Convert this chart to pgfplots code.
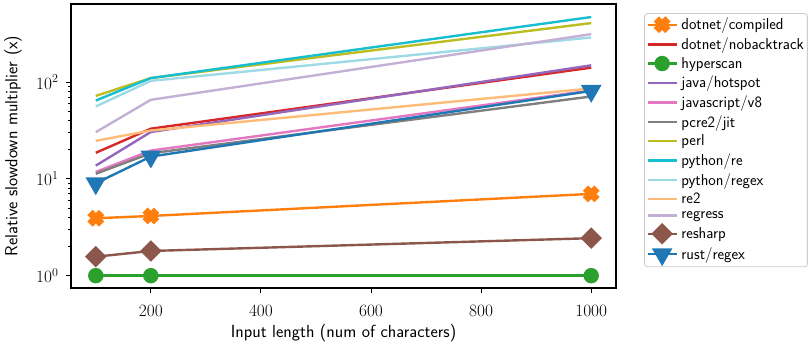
\documentclass[border=0pt]{standalone}
\usepackage{pgfplots}
\pgfplotsset{compat=1.18}

% tab10 / tab20 colours
\definecolor{tblue}{HTML}{1F77B4}
\definecolor{torange}{HTML}{FF7F0E}
\definecolor{tgreen}{HTML}{2CA02C}
\definecolor{tred}{HTML}{D62728}
\definecolor{tpurple}{HTML}{9467BD}
\definecolor{tbrown}{HTML}{8C564B}
\definecolor{tpink}{HTML}{E377C2}
\definecolor{tgray}{HTML}{7F7F7F}
\definecolor{tolive}{HTML}{BCBD22}
\definecolor{tcyan}{HTML}{17BECF}
\definecolor{tlcyan}{HTML}{9EDAE5}
\definecolor{tlorange}{HTML}{FFBB78}
\definecolor{tlpurple}{HTML}{C5B0D5}

% filled "X" marker
\pgfdeclareplotmark{Xfill}{%
  \pgftransformrotate{45}%
  \pgfpathmoveto{\pgfqpoint{0.36\pgfplotmarksize}{\pgfplotmarksize}}%
  \pgfpathlineto{\pgfqpoint{0.36\pgfplotmarksize}{0.36\pgfplotmarksize}}%
  \pgfpathlineto{\pgfqpoint{\pgfplotmarksize}{0.36\pgfplotmarksize}}%
  \pgfpathlineto{\pgfqpoint{\pgfplotmarksize}{-0.36\pgfplotmarksize}}%
  \pgfpathlineto{\pgfqpoint{0.36\pgfplotmarksize}{-0.36\pgfplotmarksize}}%
  \pgfpathlineto{\pgfqpoint{0.36\pgfplotmarksize}{-\pgfplotmarksize}}%
  \pgfpathlineto{\pgfqpoint{-0.36\pgfplotmarksize}{-\pgfplotmarksize}}%
  \pgfpathlineto{\pgfqpoint{-0.36\pgfplotmarksize}{-0.36\pgfplotmarksize}}%
  \pgfpathlineto{\pgfqpoint{-\pgfplotmarksize}{-0.36\pgfplotmarksize}}%
  \pgfpathlineto{\pgfqpoint{-\pgfplotmarksize}{0.36\pgfplotmarksize}}%
  \pgfpathlineto{\pgfqpoint{-0.36\pgfplotmarksize}{0.36\pgfplotmarksize}}%
  \pgfpathlineto{\pgfqpoint{-0.36\pgfplotmarksize}{\pgfplotmarksize}}%
  \pgfpathclose
  \pgfusepathqfillstroke
}

\begin{document}
\begin{tikzpicture}
\useasboundingbox (-71pt,-56pt) rectangle (737pt,288pt);
\begin{axis}[
    at={(0,0)}, anchor=south west,
    scale only axis,
    width=545pt, height=284pt,
    xmin=55, xmax=1045,
    ymode=log, ymin=0.746, ymax=641,
    xtick={200,400,600,800,1000},
    ytick={1,10,100},
    /pgf/number format/set thousands separator={},
    tick align=outside,
    major tick length=5pt, minor tick length=3pt,
    every tick/.style={black, line width=0.9pt},
    axis line style={line width=1.1pt},
    xtick pos=bottom, ytick pos=left,
    tick label style={font=\fontsize{17.4}{20}\selectfont},
    xticklabel style={yshift=-9pt},
    yticklabel shift=4pt,
    label style={font=\sffamily\fontsize{17.5}{20}\selectfont},
    xlabel={Input length (num of characters)},
    ylabel={Relative slowdown multiplier (x)},
    xlabel style={at={(axis description cs:0.5,-0.1736)}, anchor=base},
    ylabel style={at={(axis description cs:-0.1064,0.5)}, anchor=center},
    every axis plot/.append style={line width=2.4pt},
    legend style={
        at={(1.0514,0.968)}, anchor=north west,
        draw=black!20, line width=0.9pt, rounded corners=3pt,
        fill=white,
        font=\sffamily\fontsize{15.8}{18}\selectfont,
        row sep=3.3pt, inner xsep=2pt, inner ysep=3pt,
        nodes={inner sep=1.5pt},
        /tikz/every odd column/.append style={column sep=2pt},
    },
    legend cell align=left,
    legend image code/.code={%
        \draw[mark repeat=2,mark phase=2,#1]
            plot coordinates {(0pt,0pt) (14.5pt,0pt) (29pt,0pt)};},
]
\addplot[torange, mark=Xfill, mark size=7pt] coordinates {
    (100,3.92) (200,4.14) (1000,7.0)};
\addlegendentry{dotnet/compiled}
\addplot[tred] coordinates {
    (100,18.6) (200,33.0) (1000,141)};
\addlegendentry{dotnet/nobacktrack}
\addplot[tgreen, mark=*, mark size=6.5pt] coordinates {
    (100,1) (200,1) (1000,1)};
\addlegendentry{hyperscan}
\addplot[tpurple] coordinates {
    (100,13.7) (200,30.5) (1000,149)};
\addlegendentry{java/hotspot}
\addplot[tpink] coordinates {
    (100,11.8) (200,19.6) (1000,82)};
\addlegendentry{javascript/v8}
\addplot[tgray] coordinates {
    (100,11.3) (200,18.4) (1000,71)};
\addlegendentry{pcre2/jit}
\addplot[tolive] coordinates {
    (100,72) (200,110) (1000,407)};
\addlegendentry{perl}
\addplot[tcyan] coordinates {
    (100,64.5) (200,110) (1000,470)};
\addlegendentry{python/re}
\addplot[tlcyan] coordinates {
    (100,56) (200,103) (1000,289)};
\addlegendentry{python/regex}
\addplot[tlorange] coordinates {
    (100,24.7) (200,31.6) (1000,86)};
\addlegendentry{re2}
\addplot[tlpurple] coordinates {
    (100,30.4) (200,65.6) (1000,313)};
\addlegendentry{regress}
\addplot[tbrown, mark=square*, mark size=6.4pt, mark options={rotate=45}] coordinates {
    (100,1.57) (200,1.80) (1000,2.44)};
\addlegendentry{resharp}
\addplot[tblue, mark=triangle*, mark size=9.5pt, mark options={rotate=180}] coordinates {
    (100,9.0) (200,17.0) (1000,81)};
\addlegendentry{rust/regex}
\end{axis}
\end{tikzpicture}
\end{document}
